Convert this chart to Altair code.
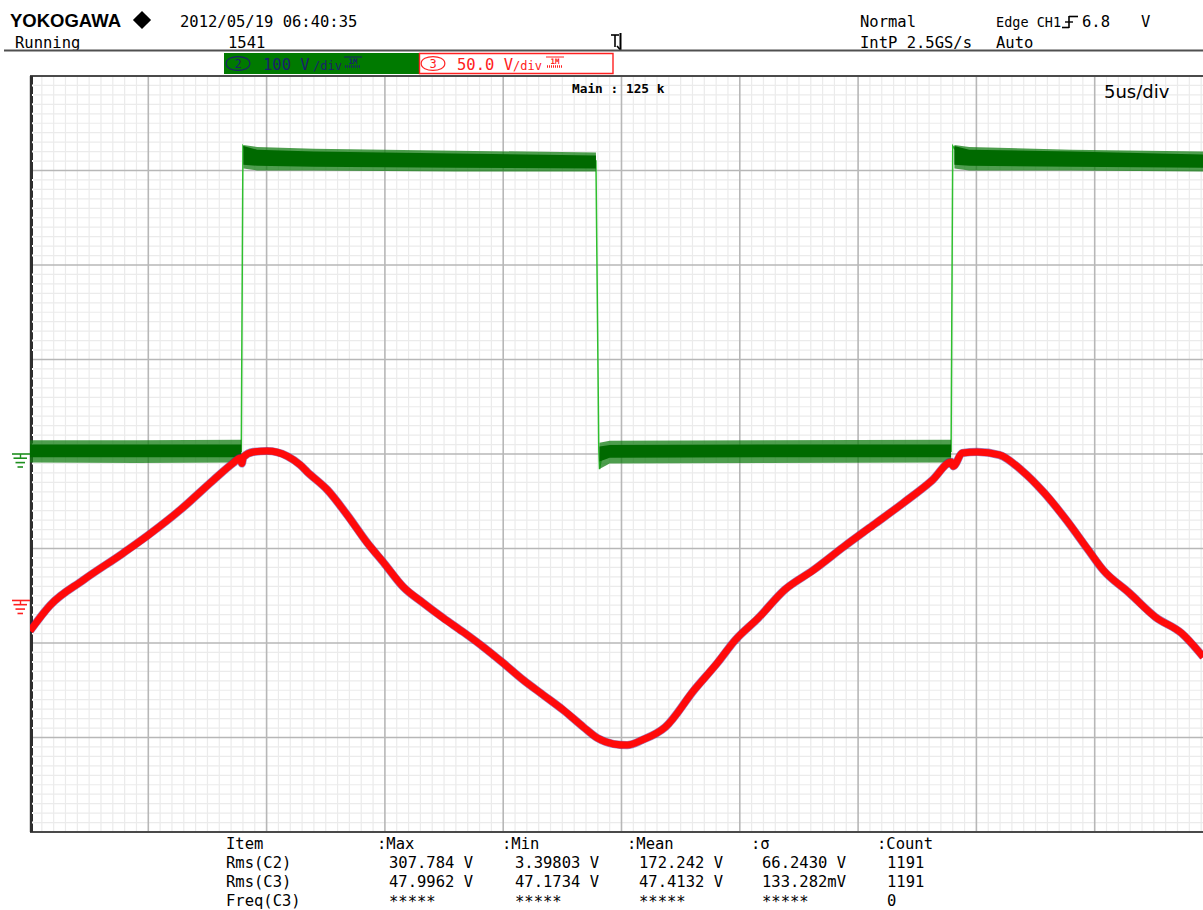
import altair as alt
import numpy as np
import pandas as pd

# ---------------- scope settings ----------------
TIME_PER_DIV_US = 5.0
CH2_VOLTS_PER_DIV = 100.0
CH3_VOLTS_PER_DIV = 50.0
CH2_POSITION_DIV = 0.0
CH3_POSITION_DIV = -1.55

# ---------------- CH3 (red) current-like waveform ----------------
ch3_time_us = [0.0, 0.86, 2.25, 3.94, 5.0, 6.35, 7.75, 8.59, 8.89, 8.95, 9.02, 9.44,
               10.03, 10.87, 11.42, 11.72, 12.57, 13.41, 14.26, 14.93, 15.78, 16.62,
               17.47, 18.31, 19.16, 20.0, 20.85, 21.69, 22.54, 23.39, 23.98, 24.66,
               25.24, 25.88, 26.85, 28.07, 29.05, 29.81, 30.78, 31.88, 33.11, 34.38,
               35.64, 36.91, 38.14, 38.94, 39.02, 39.40, 40.04, 40.97, 41.90, 42.87,
               43.80, 44.73, 45.36, 46.46, 47.56, 48.66, 49.59]
ch3_volts = [-16.1, -2.4, 10.8, 25.1, 34.6, 47.9, 63.7, 72.7, 75.4, 72.5, 75.9, 78.6,
             79.1, 76.4, 71.7, 68.0, 58.5, 45.2, 30.4, 20.3, 7.1, -1.3,
             -9.3, -16.7, -24.6, -33.1, -42.1, -50.0, -58.0, -67.0, -72.8, -75.9,
             -76.5, -73.8, -67.0, -47.4, -33.1, -20.9, -9.3, 5.5, 16.1, 28.3,
             39.9, 51.6, 63.7, 73.3, 71.0, 78.0, 78.6, 77.0, 69.0, 56.9,
             42.6, 26.7, 16.1, 4.0, -8.7, -17.2, -29.9]

# ---------------- CH2 (green) switching waveform ----------------
ch2_time_us = [0.0, 8.93, 9.0, 9.3, 23.92, 24.04, 24.07, 24.2, 38.93, 39.0, 39.3, 49.6]
ch2_volts = [3, 3, 326, 316, 310, 5, -16, 2, 3, 326, 316, 311]

# noise envelope of each flat section: dense band and spike extremes (volts)
ch2_env_section = [0, 0, 0, 1, 1, 1, 1, 1, 2, 2, 2, 2, 3, 3, 3, 3]
ch2_env_time_us = [0.0, 4.5, 8.93, 9.02, 9.6, 12.0, 18.0, 23.92,
                   24.07, 24.5, 31.0, 38.93, 39.07, 39.7, 44.0, 49.6]
ch2_env_lo = [-3.5, -3.5, -3.5, 306, 305, 304, 303, 302, -8, -4, -3.5, -3.5, 306, 305, 304, 303]
ch2_env_hi = [10, 10, 10, 326, 322, 320, 318, 316, 8, 9.5, 10, 10, 326, 322, 320, 317]
ch2_spike_lo = [-9, -9.5, -9, 302, 300, 300, 299, 299, -16, -10, -9.5, -9, 302, 300, 300, 299]
ch2_spike_hi = [14.5, 14.5, 15, 327, 325, 323, 321, 319, 12, 14, 14.5, 15, 327, 325, 322, 320]

# ---------------- measurement table ----------------
meas_header = ["Item", ":Max", ":Min", ":Mean", ":σ", ":Count"]
meas_items = ["Rms(C2)", "Rms(C3)", "Freq(C3)"]
meas_max = ["307.784 V", "47.9962 V", "*****"]
meas_min = ["3.39803 V", "47.1734 V", "*****"]
meas_mean = ["172.242 V", "47.4132 V", "*****"]
meas_sigma = ["66.2430 V", "133.282mV", "*****"]
meas_count = ["1191", "1191", "0"]

# ---------------- page layout ----------------
LEFT, TOP = 30, 76
PLOT_W, PLOT_H = 1173, 756
DIV_PX = 118.3
X_SPAN_US = PLOT_W / DIV_PX * TIME_PER_DIV_US
MONO = "DejaVu Sans Mono"
SANS = "Liberation Sans"

xs = alt.Scale(domain=[0, X_SPAN_US], nice=False, zero=False)
ys = alt.Scale(domain=[-4, 4], nice=False, zero=False)
ONE = pd.DataFrame({"k": [0]})


def label(s, x, y, size=15.5, color="black", font=MONO, weight="normal", align="left"):
    return alt.Chart(ONE).mark_text(
        text=s, font=font, fontSize=size, fontWeight=weight, color=color,
        align=align, baseline="alphabetic"
    ).encode(x=alt.value(x - LEFT), y=alt.value(y - TOP))


def seg(x1, y1, x2, y2, color, width=1.0, dash=None):
    kw = dict(color=color, strokeWidth=width)
    if dash:
        kw["strokeDash"] = dash
    return alt.Chart(ONE).mark_rule(**kw).encode(
        x=alt.value(x1 - LEFT), y=alt.value(y1 - TOP),
        x2=alt.value(x2 - LEFT), y2=alt.value(y2 - TOP))


def box(x1, y1, x2, y2, fill, stroke=None, sw=0.0):
    kw = dict(color=fill)
    if stroke:
        kw.update(stroke=stroke, strokeWidth=sw)
    return alt.Chart(ONE).mark_rect(**kw).encode(
        x=alt.value(x1 - LEFT), x2=alt.value(x2 - LEFT),
        y=alt.value(y1 - TOP), y2=alt.value(y2 - TOP))


ELLIPSE = "M-1,0C-1,-0.78,1,-0.78,1,0C1,0.78,-1,0.78,-1,0Z"


def channel_tag(cx, cy, digit, color):
    ring = alt.Chart(ONE).mark_point(
        shape=ELLIPSE, size=560, filled=False, color=color, strokeWidth=1.2, opacity=1
    ).encode(x=alt.value(cx - LEFT), y=alt.value(cy - TOP))
    return ring + label(digit, cx, cy + 4.5, size=12, color=color, align="center")


def coupling_mark(x, color):
    return (seg(x, 57, x + 18, 57, color, 1.0)
            + label("1M", x + 9, 63.5, size=7.5, color=color, weight="bold", align="center")
            + seg(x + 1, 66.5, x + 17, 66.5, color, 2.5, dash=[1, 1]))


# ---------------- graticule ----------------
minor_x = [round(v, 2) for v in np.arange(0.5, X_SPAN_US, 0.5) if abs(v / 5 - round(v / 5)) > 1e-6]
major_x = [v for v in np.arange(5, X_SPAN_US, 5.0)]
minor_y = [round(v, 1) for v in np.arange(-3.9, 4.0, 0.1) if abs(v - round(v)) > 1e-6]
major_y = [-3, -2, -1, 0, 1, 2, 3]

vx_minor = alt.Chart(pd.DataFrame({"t": minor_x})).mark_rule(color="#ebebeb", strokeWidth=1.2).encode(
    x=alt.X("t:Q", scale=xs, axis=None))
hy_minor = alt.Chart(pd.DataFrame({"d": minor_y})).mark_rule(color="#ebebeb", strokeWidth=1.2).encode(
    y=alt.Y("d:Q", scale=ys, axis=None))
vx_major = alt.Chart(pd.DataFrame({"t": major_x})).mark_rule(color="#b7b7b7", strokeWidth=1.6).encode(
    x=alt.X("t:Q", scale=xs, axis=None))
hy_major = alt.Chart(pd.DataFrame({"d": major_y})).mark_rule(color="#b7b7b7", strokeWidth=1.6).encode(
    y=alt.Y("d:Q", scale=ys, axis=None))
frame = alt.Chart(pd.DataFrame({"d": [4, -4]})).mark_rule(color="#4a4a4a", strokeWidth=2).encode(
    y=alt.Y("d:Q", scale=ys, axis=None))
ruler = alt.Chart(ONE).mark_rule(color="#2e2e2e", strokeWidth=3.2).encode(
    x=alt.value(1.4), y=alt.value(0), y2=alt.value(PLOT_H))
ruler_notch = alt.Chart(pd.DataFrame({"d": minor_y})).mark_rule(color="white", strokeWidth=2).encode(
    x=alt.value(2.0), x2=alt.value(3.2), y=alt.Y("d:Q", scale=ys, axis=None))

# ---------------- traces ----------------
ch2_line = pd.DataFrame({"t": ch2_time_us,
                         "div": np.array(ch2_volts) / CH2_VOLTS_PER_DIV + CH2_POSITION_DIV})
ch2_env = pd.DataFrame({
    "sec": ch2_env_section, "t": ch2_env_time_us,
    "lo": np.array(ch2_env_lo) / CH2_VOLTS_PER_DIV + CH2_POSITION_DIV,
    "hi": np.array(ch2_env_hi) / CH2_VOLTS_PER_DIV + CH2_POSITION_DIV,
    "slo": np.array(ch2_spike_lo) / CH2_VOLTS_PER_DIV + CH2_POSITION_DIV,
    "shi": np.array(ch2_spike_hi) / CH2_VOLTS_PER_DIV + CH2_POSITION_DIV,
})
ch3 = pd.DataFrame({"t": ch3_time_us,
                    "div": np.array(ch3_volts) / CH3_VOLTS_PER_DIV + CH3_POSITION_DIV})

green_trace = alt.Chart(ch2_line).mark_line(color="#2fbf2f", strokeWidth=1.5, clip=True).encode(
    x=alt.X("t:Q", scale=xs, axis=None), y=alt.Y("div:Q", scale=ys, axis=None))
green_spikes = alt.Chart(ch2_env).mark_area(color="#137d13", opacity=0.75, clip=True).encode(
    x=alt.X("t:Q", scale=xs, axis=None), y=alt.Y("slo:Q", scale=ys, axis=None), y2="shi:Q",
    detail="sec:N")
green_band = alt.Chart(ch2_env).mark_area(color="#006a00", clip=True).encode(
    x=alt.X("t:Q", scale=xs, axis=None), y=alt.Y("lo:Q", scale=ys, axis=None), y2="hi:Q",
    detail="sec:N")

red_fringe = alt.Chart(ch3).mark_line(color="#5a1c8c", strokeWidth=8.2, interpolate="monotone",
                                      clip=True, opacity=0.55).encode(
    x=alt.X("t:Q", scale=xs, axis=None), y=alt.Y("div:Q", scale=ys, axis=None))
red_trace = alt.Chart(ch3).mark_line(color="#ff0a0a", strokeWidth=7, interpolate="monotone",
                                     clip=True).encode(
    x=alt.X("t:Q", scale=xs, axis=None), y=alt.Y("div:Q", scale=ys, axis=None))


# ---------------- ground markers ----------------
def ground_marker(level_div, color):
    g = pd.DataFrame({"g": [level_div]})
    y = alt.Y("g:Q", scale=ys, axis=None)
    parts = []
    for off, a, b in [(0, 12, 30), (4.2, 13.5, 27), (8.6, 15.5, 25), (13, 17.5, 23)]:
        parts.append(alt.Chart(g).mark_rule(color=color, strokeWidth=1.6, yOffset=off).encode(
            x=alt.value(a - LEFT), x2=alt.value(b - LEFT), y=y))
    parts.append(alt.Chart(g).mark_rule(color=color, strokeWidth=1.4, y2Offset=4).encode(
        x=alt.value(20.5 - LEFT), y=y, y2="g:Q"))
    return alt.layer(*parts)


green_ground = ground_marker(CH2_POSITION_DIV, "#1e8f1e")
red_ground = ground_marker(CH3_POSITION_DIV, "#ff2020")

# ---------------- header ----------------
NAVY = "#1b1f6b"
header = [
    label("YOKOGAWA", 10, 27, size=18.5, font=SANS, weight="bold"),
    alt.Chart(ONE).mark_point(shape="diamond", size=330, filled=True, color="black", opacity=1).encode(
        x=alt.value(142 - LEFT), y=alt.value(20 - TOP)),
    label("2012/05/19 06:40:35", 180, 27),
    label("Running", 15, 48),
    label("1541", 228, 48),
    label("Normal", 860, 27),
    label("IntP 2.5GS/s", 860, 48),
    label("Edge CH1", 996, 27, size=13.5),
    label("6.8", 1082, 27),
    label("V", 1141, 27),
    label("Auto", 996, 48),
    # trigger slope glyph
    seg(1062, 27.5, 1069, 27.5, "black", 1.6), seg(1069, 28, 1069, 16, "black", 1.6),
    seg(1069, 16.5, 1078, 16.5, "black", 1.6), seg(1065, 22, 1073, 22, "black", 1.4),
    # trigger position glyph
    seg(611, 35, 619, 35, "black", 1.6), seg(615, 35, 615, 47, "black", 1.6),
    seg(620.5, 33, 620.5, 50, "black", 2.0), seg(617, 46, 620.5, 50, "black", 1.6),
    seg(4, 50.5, 1203, 50.5, "#505050", 2),
    # channel 2 setting box
    box(224, 53, 419, 74, "#007a00"),
    channel_tag(238, 63.5, "2", NAVY),
    label("100 V", 263, 70, color=NAVY),
    label("/div", 313, 70, size=12, color=NAVY),
    coupling_mark(344, NAVY),
    # channel 3 setting box
    box(419.5, 53.5, 613, 73.5, "white", stroke="#ff2020", sw=1.4),
    channel_tag(433, 63.5, "3", "#ff2020"),
    label("50.0 V", 457, 70, color="#ff2020"),
    label("/div", 513, 70, size=12, color="#ff2020"),
    coupling_mark(546, "#ff2020"),
    # in-screen annotations
    label("Main : 125 k", 572, 93, size=12.8, weight="bold"),
    label("5us/div", 1104, 98, size=18, font="DejaVu Sans"),
]

# ---------------- measurement table ----------------
COL_X = [226, 377, 502, 627, 751, 877]
VAL_X = [226, 389, 515, 639, 762, 887]
ROW_Y = [849, 868, 887, 906]
rows = []
for c, h in enumerate(meas_header):
    rows.append({"text": h, "px": COL_X[c] - LEFT, "py": ROW_Y[0] - TOP})
columns = [meas_items, meas_max, meas_min, meas_mean, meas_sigma, meas_count]
for c, col in enumerate(columns):
    for r, s in enumerate(col):
        star = s.startswith("*")
        rows.append({"text": s, "px": VAL_X[c] - LEFT, "py": ROW_Y[r + 1] - TOP + (1 if star else 0)})
table = alt.Chart(pd.DataFrame(rows)).mark_text(
    font=MONO, fontSize=15.5, align="left", baseline="alphabetic", color="black"
).encode(x=alt.X("px:Q", scale=None), y=alt.Y("py:Q", scale=None), text="text:N")

chart = alt.layer(
    vx_minor, hy_minor, vx_major, hy_major, frame, ruler, ruler_notch,
    green_trace, green_spikes, green_band, red_fringe, red_trace,
    green_ground, red_ground, *header, table
).properties(
    width=PLOT_W, height=PLOT_H,
    padding={"left": LEFT, "top": TOP, "right": 0, "bottom": 910 - TOP - PLOT_H},
    autosize=alt.AutoSizeParams(type="none"),
    background="white",
).configure_view(stroke=None)

chart.save("out.html", embed_options={"renderer": "svg", "actions": False})
